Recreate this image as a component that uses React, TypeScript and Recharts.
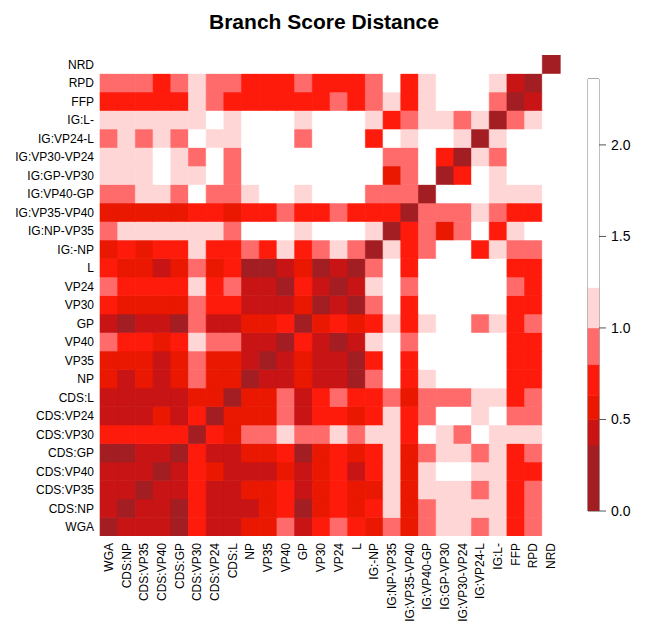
import React from 'react';
import { BarChart, Bar, XAxis, YAxis, Cell, ReferenceArea } from 'recharts';

const labels = [
  'WGA', 'CDS:NP', 'CDS:VP35', 'CDS:VP40', 'CDS:GP', 'CDS:VP30', 'CDS:VP24', 'CDS:L',
  'NP', 'VP35', 'VP40', 'GP', 'VP30', 'VP24', 'L', 'IG:-NP', 'IG:NP-VP35', 'IG:VP35-VP40',
  'IG:VP40-GP', 'IG:GP-VP30', 'IG:VP30-VP24', 'IG:VP24-L', 'IG:L-', 'FFP', 'RPD', 'NRD',
];

// Lower triangle of the symmetric distance matrix: row i holds distances to labels 0..i-1
const lowerTriangle: number[][] = [
  [],
  [0.43],
  [0.43, 0.43],
  [0.43, 0.43, 0.43],
  [0.2, 0.2, 0.43, 0.43],
  [0.72, 0.72, 0.72, 0.72, 0.72],
  [0.43, 0.43, 0.43, 0.56, 0.43, 0.72],
  [0.43, 0.43, 0.43, 0.43, 0.43, 0.56, 0.56],
  [0.56, 0.43, 0.56, 0.43, 0.56, 0.9, 0.56, 0.56],
  [0.56, 0.56, 0.56, 0.43, 0.56, 0.9, 0.56, 0.56, 0.43],
  [0.9, 0.72, 0.72, 0.56, 0.72, 1.1, 0.9, 0.9, 0.43, 0.43],
  [0.43, 0.2, 0.43, 0.43, 0.2, 0.9, 0.43, 0.43, 0.56, 0.56, 0.72],
  [0.72, 0.56, 0.56, 0.56, 0.56, 0.9, 0.72, 0.72, 0.43, 0.43, 0.43, 0.56],
  [0.9, 0.72, 0.72, 0.72, 0.72, 1.1, 0.72, 0.9, 0.43, 0.43, 0.2, 0.72, 0.43],
  [0.72, 0.56, 0.56, 0.43, 0.56, 0.9, 0.56, 0.72, 0.2, 0.2, 0.43, 0.56, 0.2, 0.43],
  [0.56, 0.72, 0.56, 0.72, 0.72, 1.1, 0.72, 0.72, 0.9, 0.72, 1.1, 0.72, 0.9, 1.1, 0.9],
  [0.9, 1.1, 1.1, 1.1, 1.1, 1.1, 1.1, 0.9, 1.7, 1.7, 1.7, 1.1, 1.7, 1.7, 1.7, 1.1],
  [0.56, 0.56, 0.56, 0.56, 0.56, 0.72, 0.72, 0.56, 0.72, 0.72, 0.9, 0.72, 0.72, 0.9, 0.72, 0.72, 0.72],
  [0.9, 0.9, 1.1, 1.1, 0.9, 1.7, 0.9, 0.9, 1.1, 1.7, 1.7, 1.1, 1.7, 1.7, 1.7, 0.9, 0.9, 0.9],
  [1.1, 1.1, 1.1, 1.7, 1.1, 1.1, 1.7, 0.9, 1.7, 1.7, 1.7, 1.7, 1.7, 1.7, 1.7, 1.7, 0.56, 0.9, 1.7],
  [1.1, 1.1, 1.1, 1.7, 1.1, 0.9, 1.7, 0.9, 1.7, 1.7, 1.7, 1.7, 1.7, 1.7, 1.7, 1.7, 0.9, 0.9, 1.7, 0.72],
  [0.9, 1.1, 0.9, 1.1, 0.9, 1.7, 1.1, 1.1, 1.7, 1.7, 1.7, 0.9, 1.7, 1.7, 1.7, 0.72, 1.7, 1.1, 1.7, 1.7, 1.1],
  [1.1, 1.1, 1.1, 1.1, 1.1, 1.1, 1.7, 1.1, 1.7, 1.7, 1.7, 1.1, 1.7, 1.7, 1.7, 1.1, 0.72, 0.9, 1.1, 1.1, 0.9, 1.1],
  [0.72, 0.72, 0.72, 0.72, 0.72, 1.1, 0.9, 0.72, 0.72, 0.72, 0.72, 0.72, 0.72, 0.9, 0.72, 0.9, 1.1, 0.72, 1.1, 1.7, 1.7, 1.7, 0.9],
  [0.9, 0.9, 0.9, 0.72, 0.9, 1.1, 0.9, 0.9, 0.72, 0.72, 0.72, 0.9, 0.72, 0.72, 0.72, 0.9, 1.7, 0.72, 1.1, 1.7, 1.7, 1.7, 1.1, 0.43],
  [2.3, 2.3, 2.3, 2.3, 2.3, 2.3, 2.3, 2.3, 2.3, 2.3, 2.3, 2.3, 2.3, 2.3, 2.3, 2.3, 2.3, 2.3, 2.3, 2.3, 2.3, 2.3, 2.3, 2.3, 2.3],
];

// Colour scale breaks (upper bounds) and colours
const breaks = [0.36, 0.5, 0.63, 0.8, 1.0, 1.22, 2.36];
const colors = ['#A21E22', '#C81414', '#EA1800', '#FF1B0B', '#FF6B6B', '#FFD6D6', '#FFFFFF'];
const colorbarTicks = [0, 0.5, 1.0, 1.5, 2.0];

const dist = (i: number, j: number) => {
  if (i === j) return 0;
  return i > j ? lowerTriangle[i][j] : lowerTriangle[j][i];
};
const colorFor = (v: number) => {
  for (let k = 0; k < breaks.length; k++) if (v < breaks[k]) return colors[k];
  return colors[colors.length - 1];
};

const n = labels.length;
const heatData = labels.map((name) => {
  const o: Record<string, any> = { name };
  labels.forEach((_, i) => { o['r' + i] = 1; });
  return o;
});
const yTicks = labels.map((_, i) => i + 0.5);

const cbRow: Record<string, any> = { name: 'cb' };
breaks.forEach((b, k) => { cbRow['b' + k] = b - (k === 0 ? 0 : breaks[k - 1]); });
const cbData = [cbRow];

const FONT = '"Liberation Sans", Arial, sans-serif';

const XTick = (props: any) => {
  const { x, y, payload } = props;
  return (
    <text x={x} y={y} transform={`rotate(-90, ${x}, ${y})`} textAnchor="end" dominantBaseline="central"
      fontSize={12} fontFamily={FONT} fill="#000">
      {payload.value}
    </text>
  );
};

export default function App() {
  return (
    <div style={{ position: 'absolute', left: 0, top: 0, width: 648, height: 627, background: '#fff' }}>
      <div style={{ position: 'absolute', left: 0, top: 9, width: 648, textAlign: 'center', fontFamily: FONT,
        fontWeight: 'bold', fontSize: 21, lineHeight: '26px', color: '#000' }}>
        Branch Score Distance
      </div>
      <div style={{ position: 'absolute', left: 0, top: 0 }}>
        <BarChart width={648} height={627} data={heatData} barCategoryGap={0} barGap={0}
          margin={{ top: 55, right: 88, bottom: 0, left: 0 }}>
          <XAxis dataKey="name" height={91} interval={0} tickLine={false} axisLine={false}
            tickSize={4} tickMargin={3} tick={<XTick />} />
          <YAxis type="number" domain={[0, n]} ticks={yTicks} width={100} interval={0} tickLine={false}
            axisLine={false} tickSize={4} tickMargin={2} allowDataOverflow
            tickFormatter={(v: number) => labels[Math.floor(v)]}
            tick={{ fontSize: 12, fontFamily: FONT, fill: '#000' }} />
          {labels.map((_, i) => (
            <Bar key={i} dataKey={'r' + i} stackId="a" isAnimationActive={false}>
              {labels.map((__, j) => {
                const c = colorFor(dist(i, j));
                return <Cell key={j} fill={c} stroke={c} strokeWidth={0.6} />;
              })}
            </Bar>
          ))}
        </BarChart>
      </div>
      <div style={{ position: 'absolute', left: 578, top: 69 }}>
        <BarChart width={70} height={452} data={cbData} barCategoryGap={0} barGap={0}
          margin={{ top: 10, right: 0, bottom: 10, left: 10 }}>
          <XAxis dataKey="name" hide />
          <YAxis type="number" orientation="right" domain={[0, breaks[breaks.length - 1]]} ticks={colorbarTicks}
            width={49} interval={0} axisLine={false} tickSize={7} tickMargin={5}
            tickLine={{ stroke: '#555' }} allowDataOverflow
            tickFormatter={(v: number) => v.toFixed(1)}
            tick={{ fontSize: 14, fontFamily: FONT, fill: '#000' }} />
          {breaks.map((_, k) => (
            <Bar key={k} dataKey={'b' + k} stackId="c" fill={colors[k]} stroke={colors[k]} strokeWidth={0.5} isAnimationActive={false} />
          ))}
          <ReferenceArea y1={0} y2={breaks[breaks.length - 1]} fill="none" stroke="#555" strokeWidth={1} ifOverflow="visible" />
        </BarChart>
      </div>
    </div>
  );
}
